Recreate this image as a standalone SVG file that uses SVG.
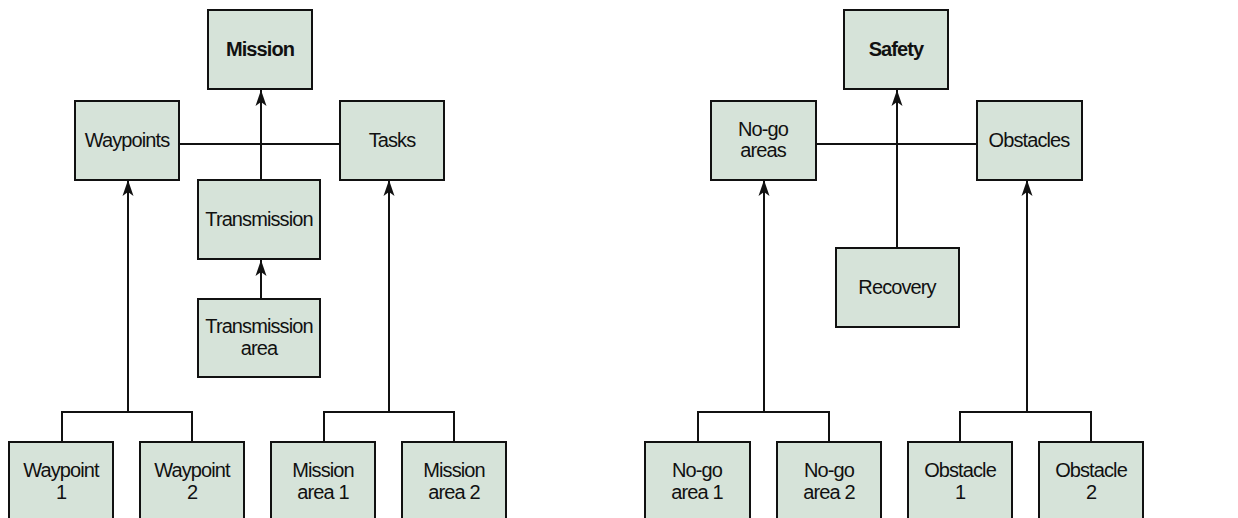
<svg xmlns="http://www.w3.org/2000/svg" width="1238" height="518" viewBox="0 0 1238 518">
<style>
.box{fill:#d6e3d9;stroke:#111;stroke-width:2}
.t{font-family:"Liberation Sans",Arial,sans-serif;font-size:20px;letter-spacing:-0.9px;fill:#111;text-anchor:middle}
.b{font-weight:bold}
.ln{fill:none;stroke:#111;stroke-width:2}
</style>
<defs>
<marker id="a" viewBox="0 0 16 12" refX="16" refY="6" markerWidth="16" markerHeight="12" markerUnits="userSpaceOnUse" orient="auto">
<path d="M0,0.5 L16,6 L0,11.5 L4,6 Z" fill="#111"/>
</marker>
</defs>
<rect width="1238" height="518" fill="#fff"/>
<g id="connectors">
<line class="ln" x1="179" y1="144" x2="340" y2="144"/>
<line class="ln" x1="261" y1="180" x2="261" y2="90" marker-end="url(#a)"/>
<line class="ln" x1="261" y1="299" x2="261" y2="260" marker-end="url(#a)"/>
<line class="ln" x1="128" y1="412" x2="128" y2="180" marker-end="url(#a)"/>
<line class="ln" x1="389" y1="412" x2="389" y2="180" marker-end="url(#a)"/>
<path class="ln" d="M62,442 V412 H192 V442"/>
<path class="ln" d="M324,442 V412 H454 V442"/>
<line class="ln" x1="816" y1="144" x2="977" y2="144"/>
<line class="ln" x1="897" y1="248" x2="897" y2="90" marker-end="url(#a)"/>
<line class="ln" x1="764" y1="412" x2="764" y2="180" marker-end="url(#a)"/>
<line class="ln" x1="1027" y1="412" x2="1027" y2="180" marker-end="url(#a)"/>
<path class="ln" d="M698,442 V412 H829 V442"/>
<path class="ln" d="M960,442 V412 H1091 V442"/>
</g>
<g id="mission"><rect class="box" x="208" y="10" width="104" height="79"/><text class="t b" x="260" y="56">Mission</text></g>
<g id="waypoints"><rect class="box" x="75" y="101" width="104" height="79"/><text class="t" x="127" y="147">Waypoints</text></g>
<g id="tasks"><rect class="box" x="340" y="101" width="104" height="79"/><text class="t" x="392" y="147">Tasks</text></g>
<g id="transmission"><rect class="box" x="198" y="180" width="122" height="79"/><text class="t" x="259" y="226">Transmission</text></g>
<g id="transmission-area"><rect class="box" x="198" y="299" width="122" height="78"/><text class="t" x="259" y="333">Transmission</text><text class="t" x="259" y="355">area</text></g>
<g id="waypoint1"><rect class="box" x="9" y="442" width="104" height="80"/><text class="t" x="61" y="477">Waypoint</text><text class="t" x="61" y="499">1</text></g>
<g id="waypoint2"><rect class="box" x="140" y="442" width="104" height="80"/><text class="t" x="192" y="477">Waypoint</text><text class="t" x="192" y="499">2</text></g>
<g id="mission-area1"><rect class="box" x="271" y="442" width="104" height="80"/><text class="t" x="323" y="477">Mission</text><text class="t" x="323" y="499">area 1</text></g>
<g id="mission-area2"><rect class="box" x="402" y="442" width="104" height="80"/><text class="t" x="454" y="477">Mission</text><text class="t" x="454" y="499">area 2</text></g>
<g id="safety"><rect class="box" x="844" y="10" width="104" height="79"/><text class="t b" x="896" y="56">Safety</text></g>
<g id="no-go-areas"><rect class="box" x="711" y="101" width="105" height="79"/><text class="t" x="763" y="136">No-go</text><text class="t" x="763" y="157">areas</text></g>
<g id="obstacles"><rect class="box" x="977" y="101" width="105" height="79"/><text class="t" x="1029" y="147">Obstacles</text></g>
<g id="recovery"><rect class="box" x="836" y="248" width="123" height="79"/><text class="t" x="897" y="294">Recovery</text></g>
<g id="no-go-area1"><rect class="box" x="645" y="442" width="105" height="80"/><text class="t" x="697" y="477">No-go</text><text class="t" x="697" y="499">area 1</text></g>
<g id="no-go-area2"><rect class="box" x="777" y="442" width="104" height="80"/><text class="t" x="829" y="477">No-go</text><text class="t" x="829" y="499">area 2</text></g>
<g id="obstacle1"><rect class="box" x="908" y="442" width="104" height="80"/><text class="t" x="960" y="477">Obstacle</text><text class="t" x="960" y="499">1</text></g>
<g id="obstacle2"><rect class="box" x="1039" y="442" width="104" height="80"/><text class="t" x="1091" y="477">Obstacle</text><text class="t" x="1091" y="499">2</text></g>
</svg>
